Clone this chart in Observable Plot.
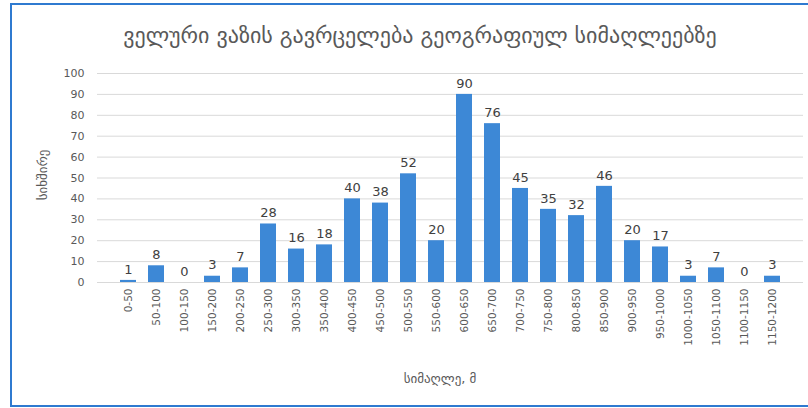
<!DOCTYPE html>
<html>
<head>
<meta charset="utf-8">
<script src="https://cdn.jsdelivr.net/npm/d3@7"></script>
<script src="https://cdn.jsdelivr.net/npm/@observablehq/plot@0.6"></script>
<style>
  html, body { margin: 0; padding: 0; background: #fff; }
  body { width: 808px; height: 408px; position: relative; overflow: hidden; font-family: "DejaVu Sans", sans-serif; }
  #frame { position: absolute; left: 10px; top: 3px; width: 820px; height: 404px; border: 2px solid #2f7ad0; box-sizing: border-box; }
  #title { position: absolute; left: 0; width: 840px; top: 23px; text-align: center; font-size: 22px; color: #595959; }
  #chart { position: absolute; left: 0; top: 60px; }
  #ylabel { position: absolute; left: 42px; top: 175px; transform: translate(-50%, -50%) rotate(-90deg); font-size: 13px; color: #595959; white-space: nowrap; }
  #xlabel { position: absolute; left: 440px; top: 378px; transform: translate(-50%, -50%); font-size: 13px; color: #595959; white-space: nowrap; }
</style>
</head>
<body>
<div id="frame"></div>
<div id="title"></div>
<div id="ylabel"></div>
<div id="xlabel"></div>
<div id="chart"></div>
<script>
const titleText = "ველური ვაზის გავრცელება გეოგრაფიულ სიმაღლეებზე";
const yLabel = "სიხშირე";
const xLabel = "სიმაღლე, მ";
const categories = ["0-50","50-100","100-150","150-200","200-250","250-300","300-350","350-400","400-450","450-500","500-550","550-600","600-650","650-700","700-750","750-800","800-850","850-900","900-950","950-1000","1000-1050","1050-1100","1100-1150","1150-1200"];
const counts = [1,8,0,3,7,28,16,18,40,38,52,20,90,76,45,35,32,46,20,17,3,7,0,3];
const yTicks = [0,10,20,30,40,50,60,70,80,90,100];

document.getElementById("title").textContent = titleText;
document.getElementById("ylabel").textContent = yLabel;
document.getElementById("xlabel").textContent = xLabel;

const data = categories.map((c, i) => ({cat: c, n: counts[i]}));

const chart = Plot.plot({
  width: 808,
  height: 300,
  marginTop: 13,
  marginBottom: 78,
  marginLeft: 97,
  marginRight: 5,
  style: {fontFamily: "DejaVu Sans, sans-serif", fontSize: "11px", color: "#595959", background: "transparent"},
  x: {domain: categories, padding: 0.43, label: null},
  y: {domain: [0, 100], label: null},
  marks: [
    Plot.gridY(yTicks, {stroke: "#d9d9d9", strokeOpacity: 1}),
    Plot.axisY(yTicks, {tickSize: 0, tickPadding: 13, fontSize: 11, fill: "#595959"}),
    Plot.axisX({tickSize: 0, tickPadding: 6, tickRotate: -90, fontSize: 10.5, fill: "#595959"}),
    Plot.barY(data, {x: "cat", y: "n", fill: "#3d88d6"}),
    Plot.text(data, {x: "cat", y: "n", text: d => String(d.n), dy: -11, fontSize: 13, fill: "#404040"})
  ]
});
document.getElementById("chart").appendChild(chart);
</script>
</body>
</html>
